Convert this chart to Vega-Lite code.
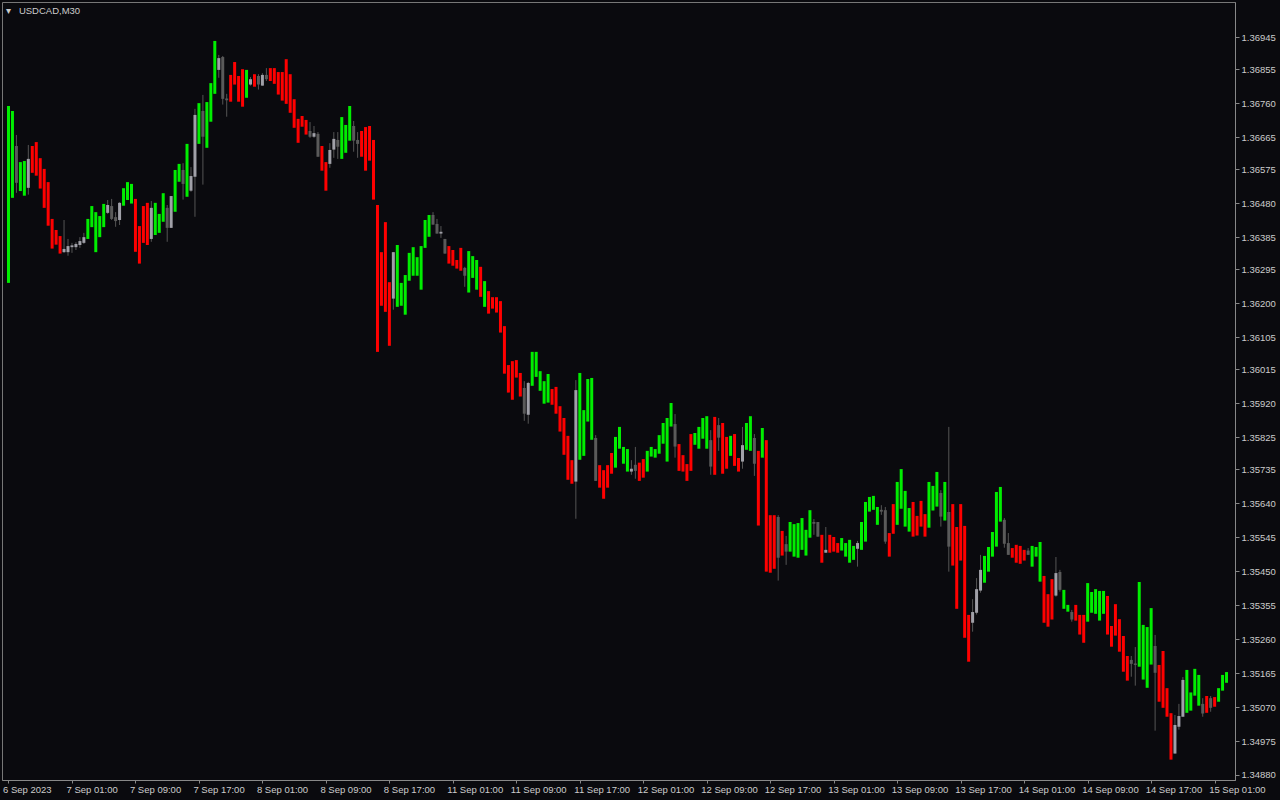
{
  "$schema": "https://vega.github.io/schema/vega-lite/v6.json",
  "autosize": {"type": "none"},
  "width": 1233,
  "height": 778,
  "padding": {"left": 2, "top": 2, "right": 45, "bottom": 20},
  "background": "#0a0a0e",
  "title": {"text": "▾\u00a0\u00a0\u00a0USDCAD,M30", "anchor": "start", "frame": "group", "orient": "top", "offset": 0, "baseline": "alphabetic", "dy": 21, "dx": 4, "fontSize": 9.5, "font": "Liberation Sans", "fontWeight": "normal", "color": "#cccccc"},
  "config": {
    "view": {"stroke": "#777777", "strokeWidth": 1},
    "axis": {"grid": false, "domainColor": "#888888", "tickColor": "#888888", "labelColor": "#cccccc", "labelFont": "Liberation Sans", "labelFontSize": 9.5, "title": null, "labelOverlap": false},
    "axisY": {"labelOverlap": false}
  },
  "data": {"values": [
{"i":0,"k":"g","o":1.36257,"c":1.36752},
{"i":1,"k":"g","o":1.36495,"c":1.36738},
{"i":2,"k":"dg","o":1.36640,"c":1.36537,"h":1.36671,"l":1.36509},
{"i":3,"k":"g","o":1.36514,"c":1.36595},
{"i":4,"k":"g","o":1.36501,"c":1.36598},
{"i":5,"k":"lg","o":1.36523,"c":1.36604,"h":1.36643,"l":1.36504},
{"i":6,"k":"r","o":1.36640,"c":1.36565},
{"i":7,"k":"r","o":1.36651,"c":1.36557},
{"i":8,"k":"r","o":1.36606,"c":1.36521},
{"i":9,"k":"r","o":1.36576,"c":1.36467},
{"i":10,"k":"r","o":1.36539,"c":1.36417},
{"i":11,"k":"r","o":1.36436,"c":1.36353},
{"i":12,"k":"r","o":1.36405,"c":1.36364},
{"i":13,"k":"r","o":1.36388,"c":1.36339},
{"i":14,"k":"lg","o":1.36343,"c":1.36352,"h":1.36433,"l":1.36341},
{"i":15,"k":"lg","o":1.36343,"c":1.36360,"h":1.36380,"l":1.36333},
{"i":16,"k":"lg","o":1.36357,"c":1.36362,"h":1.36369,"l":1.36341},
{"i":17,"k":"lg","o":1.36357,"c":1.36366,"h":1.36371,"l":1.36349},
{"i":18,"k":"lg","o":1.36363,"c":1.36374,"h":1.36385,"l":1.36355},
{"i":19,"k":"lg","o":1.36369,"c":1.36385,"h":1.36397,"l":1.36366},
{"i":20,"k":"g","o":1.36380,"c":1.36436},
{"i":21,"k":"g","o":1.36413,"c":1.36472},
{"i":22,"k":"g","o":1.36343,"c":1.36455},
{"i":23,"k":"g","o":1.36385,"c":1.36444},
{"i":24,"k":"g","o":1.36413,"c":1.36478},
{"i":25,"k":"lg","o":1.36453,"c":1.36475,"h":1.36489,"l":1.36450},
{"i":26,"k":"dg","o":1.36472,"c":1.36436,"h":1.36492,"l":1.36433},
{"i":27,"k":"dg","o":1.36441,"c":1.36430,"h":1.36455,"l":1.36414},
{"i":28,"k":"lg","o":1.36433,"c":1.36481,"h":1.36483,"l":1.36419},
{"i":29,"k":"g","o":1.36473,"c":1.36522},
{"i":30,"k":"g","o":1.36489,"c":1.36539},
{"i":31,"k":"g","o":1.36479,"c":1.36534},
{"i":32,"k":"r","o":1.36492,"c":1.36344},
{"i":33,"k":"r","o":1.36416,"c":1.36311},
{"i":34,"k":"r","o":1.36472,"c":1.36369},
{"i":35,"k":"r","o":1.36481,"c":1.36363},
{"i":36,"k":"lg","o":1.36380,"c":1.36467,"h":1.36486,"l":1.36372},
{"i":37,"k":"g","o":1.36391,"c":1.36481},
{"i":38,"k":"g","o":1.36397,"c":1.36450},
{"i":39,"k":"g","o":1.36428,"c":1.36508},
{"i":40,"k":"dg","o":1.36467,"c":1.36411,"h":1.36475,"l":1.36372},
{"i":41,"k":"lg","o":1.36411,"c":1.36500,"h":1.36500,"l":1.36411},
{"i":42,"k":"g","o":1.36456,"c":1.36573},
{"i":43,"k":"g","o":1.36540,"c":1.36590},
{"i":44,"k":"dg","o":1.36573,"c":1.36534,"h":1.36592,"l":1.36490},
{"i":45,"k":"g","o":1.36498,"c":1.36646},
{"i":46,"k":"lg","o":1.36515,"c":1.36556,"h":1.36581,"l":1.36512},
{"i":47,"k":"lg","o":1.36554,"c":1.36727,"h":1.36744,"l":1.36442},
{"i":48,"k":"g","o":1.36646,"c":1.36760},
{"i":49,"k":"dg","o":1.36738,"c":1.36666,"h":1.36783,"l":1.36532},
{"i":50,"k":"g","o":1.36635,"c":1.36763},
{"i":51,"k":"g","o":1.36708,"c":1.36816},
{"i":52,"k":"g","o":1.36786,"c":1.36934},
{"i":53,"k":"lg","o":1.36853,"c":1.36886,"h":1.36895,"l":1.36831},
{"i":54,"k":"dg","o":1.36889,"c":1.36772,"h":1.36892,"l":1.36756},
{"i":55,"k":"dg","o":1.36773,"c":1.36768,"h":1.36786,"l":1.36722},
{"i":56,"k":"r","o":1.36839,"c":1.36764},
{"i":57,"k":"r","o":1.36875,"c":1.36812},
{"i":58,"k":"r","o":1.36836,"c":1.36764},
{"i":59,"k":"r","o":1.36855,"c":1.36750},
{"i":60,"k":"g","o":1.36775,"c":1.36853},
{"i":61,"k":"lg","o":1.36812,"c":1.36827,"h":1.36833,"l":1.36809},
{"i":62,"k":"r","o":1.36841,"c":1.36806},
{"i":63,"k":"dg","o":1.36836,"c":1.36812,"h":1.36841,"l":1.36798},
{"i":64,"k":"lg","o":1.36809,"c":1.36839,"h":1.36844,"l":1.36809},
{"i":65,"k":"dg","o":1.36839,"c":1.36827,"h":1.36858,"l":1.36822},
{"i":66,"k":"r","o":1.36858,"c":1.36822},
{"i":67,"k":"r","o":1.36858,"c":1.36814},
{"i":68,"k":"r","o":1.36847,"c":1.36784},
{"i":69,"k":"r","o":1.36847,"c":1.36767},
{"i":70,"k":"r","o":1.36883,"c":1.36758},
{"i":71,"k":"r","o":1.36841,"c":1.36733},
{"i":72,"k":"r","o":1.36771,"c":1.36691},
{"i":73,"k":"r","o":1.36716,"c":1.36649},
{"i":74,"k":"r","o":1.36724,"c":1.36694},
{"i":75,"k":"r","o":1.36713,"c":1.36672},
{"i":76,"k":"dg","o":1.36682,"c":1.36666,"h":1.36707,"l":1.36663},
{"i":77,"k":"lg","o":1.36666,"c":1.36676,"h":1.36696,"l":1.36663},
{"i":78,"k":"dg","o":1.36674,"c":1.36610,"h":1.36679,"l":1.36610},
{"i":79,"k":"r","o":1.36640,"c":1.36571},
{"i":80,"k":"r","o":1.36595,"c":1.36515},
{"i":81,"k":"lg","o":1.36590,"c":1.36629,"h":1.36648,"l":1.36579},
{"i":82,"k":"lg","o":1.36630,"c":1.36660,"h":1.36679,"l":1.36607},
{"i":83,"k":"dg","o":1.36657,"c":1.36638,"h":1.36679,"l":1.36604},
{"i":84,"k":"g","o":1.36604,"c":1.36721},
{"i":85,"k":"g","o":1.36621,"c":1.36699},
{"i":86,"k":"g","o":1.36655,"c":1.36752},
{"i":87,"k":"dg","o":1.36696,"c":1.36655,"h":1.36710,"l":1.36624},
{"i":88,"k":"dg","o":1.36657,"c":1.36646,"h":1.36679,"l":1.36607},
{"i":89,"k":"r","o":1.36682,"c":1.36610},
{"i":90,"k":"r","o":1.36693,"c":1.36571},
{"i":91,"k":"r","o":1.36696,"c":1.36599},
{"i":92,"k":"r","o":1.36657,"c":1.36490},
{"i":93,"k":"r","o":1.36475,"c":1.36064},
{"i":94,"k":"r","o":1.36343,"c":1.36193},
{"i":95,"k":"r","o":1.36427,"c":1.36176},
{"i":96,"k":"r","o":1.36259,"c":1.36081},
{"i":97,"k":"lg","o":1.36213,"c":1.36343,"h":1.36343,"l":1.36182},
{"i":98,"k":"g","o":1.36190,"c":1.36363},
{"i":99,"k":"g","o":1.36193,"c":1.36257},
{"i":100,"k":"g","o":1.36168,"c":1.36279},
{"i":101,"k":"g","o":1.36263,"c":1.36341},
{"i":102,"k":"g","o":1.36277,"c":1.36357},
{"i":103,"k":"g","o":1.36277,"c":1.36329},
{"i":104,"k":"g","o":1.36238,"c":1.36360},
{"i":105,"k":"g","o":1.36355,"c":1.36433},
{"i":106,"k":"g","o":1.36386,"c":1.36447},
{"i":107,"k":"dg","o":1.36447,"c":1.36420,"h":1.36455,"l":1.36420},
{"i":108,"k":"dg","o":1.36422,"c":1.36395,"h":1.36436,"l":1.36395},
{"i":109,"k":"lg","o":1.36395,"c":1.36400,"h":1.36416,"l":1.36383},
{"i":110,"k":"dg","o":1.36380,"c":1.36339,"h":1.36380,"l":1.36339},
{"i":111,"k":"r","o":1.36360,"c":1.36311},
{"i":112,"k":"r","o":1.36349,"c":1.36305},
{"i":113,"k":"r","o":1.36321,"c":1.36297},
{"i":114,"k":"r","o":1.36355,"c":1.36291},
{"i":115,"k":"dg","o":1.36299,"c":1.36277,"h":1.36302,"l":1.36246},
{"i":116,"k":"g","o":1.36230,"c":1.36346},
{"i":117,"k":"g","o":1.36271,"c":1.36332},
{"i":118,"k":"g","o":1.36238,"c":1.36321},
{"i":119,"k":"r","o":1.36302,"c":1.36218},
{"i":120,"k":"g","o":1.36190,"c":1.36262},
{"i":121,"k":"r","o":1.36234,"c":1.36171},
{"i":122,"k":"r","o":1.36217,"c":1.36185},
{"i":123,"k":"r","o":1.36217,"c":1.36174},
{"i":124,"k":"r","o":1.36206,"c":1.36118},
{"i":125,"k":"r","o":1.36136,"c":1.36003},
{"i":126,"k":"r","o":1.36027,"c":1.35950},
{"i":127,"k":"r","o":1.36038,"c":1.35930},
{"i":128,"k":"r","o":1.36041,"c":1.35992},
{"i":129,"k":"r","o":1.36005,"c":1.35939},
{"i":130,"k":"dg","o":1.35963,"c":1.35891,"h":1.35982,"l":1.35871},
{"i":131,"k":"lg","o":1.35888,"c":1.35977,"h":1.35980,"l":1.35863},
{"i":132,"k":"g","o":1.35969,"c":1.36064},
{"i":133,"k":"g","o":1.35994,"c":1.36064},
{"i":134,"k":"g","o":1.35955,"c":1.36010},
{"i":135,"k":"g","o":1.35919,"c":1.35982},
{"i":136,"k":"g","o":1.35922,"c":1.36002},
{"i":137,"k":"r","o":1.35960,"c":1.35916},
{"i":138,"k":"r","o":1.35966,"c":1.35891},
{"i":139,"k":"r","o":1.35912,"c":1.35841},
{"i":140,"k":"r","o":1.35879,"c":1.35776},
{"i":141,"k":"r","o":1.35829,"c":1.35706},
{"i":142,"k":"r","o":1.35761,"c":1.35695},
{"i":143,"k":"lg","o":1.35701,"c":1.35957,"h":1.35985,"l":1.35597},
{"i":144,"k":"g","o":1.35762,"c":1.36005},
{"i":145,"k":"g","o":1.35773,"c":1.35901},
{"i":146,"k":"g","o":1.35869,"c":1.35988},
{"i":147,"k":"g","o":1.35818,"c":1.35991},
{"i":148,"k":"dg","o":1.35823,"c":1.35703,"h":1.35831,"l":1.35703},
{"i":149,"k":"r","o":1.35747,"c":1.35684},
{"i":150,"k":"r","o":1.35733,"c":1.35653},
{"i":151,"k":"r","o":1.35747,"c":1.35684},
{"i":152,"k":"r","o":1.35781,"c":1.35723},
{"i":153,"k":"g","o":1.35740,"c":1.35826},
{"i":154,"k":"g","o":1.35793,"c":1.35854},
{"i":155,"k":"g","o":1.35751,"c":1.35798},
{"i":156,"k":"g","o":1.35729,"c":1.35792},
{"i":157,"k":"lg","o":1.35729,"c":1.35737,"h":1.35761,"l":1.35720},
{"i":158,"k":"dg","o":1.35748,"c":1.35731,"h":1.35798,"l":1.35709},
{"i":159,"k":"r","o":1.35754,"c":1.35703},
{"i":160,"k":"r","o":1.35764,"c":1.35712},
{"i":161,"k":"g","o":1.35729,"c":1.35787},
{"i":162,"k":"g","o":1.35771,"c":1.35798},
{"i":163,"k":"g","o":1.35768,"c":1.35792},
{"i":164,"k":"g","o":1.35779,"c":1.35831},
{"i":165,"k":"g","o":1.35807,"c":1.35865},
{"i":166,"k":"g","o":1.35757,"c":1.35879},
{"i":167,"k":"g","o":1.35855,"c":1.35921},
{"i":168,"k":"dg","o":1.35862,"c":1.35799,"h":1.35890,"l":1.35768},
{"i":169,"k":"r","o":1.35806,"c":1.35731},
{"i":170,"k":"r","o":1.35775,"c":1.35729},
{"i":171,"k":"r","o":1.35750,"c":1.35703},
{"i":172,"k":"r","o":1.35834,"c":1.35731},
{"i":173,"k":"g","o":1.35804,"c":1.35837},
{"i":174,"k":"g","o":1.35793,"c":1.35854},
{"i":175,"k":"g","o":1.35821,"c":1.35879},
{"i":176,"k":"g","o":1.35793,"c":1.35884},
{"i":177,"k":"dg","o":1.35817,"c":1.35743,"h":1.35845,"l":1.35720},
{"i":178,"k":"r","o":1.35882,"c":1.35720},
{"i":179,"k":"dg","o":1.35859,"c":1.35824,"h":1.35879,"l":1.35787},
{"i":180,"k":"r","o":1.35865,"c":1.35723},
{"i":181,"k":"r","o":1.35826,"c":1.35737},
{"i":182,"k":"g","o":1.35773,"c":1.35829},
{"i":183,"k":"r","o":1.35834,"c":1.35745},
{"i":184,"k":"r","o":1.35767,"c":1.35729},
{"i":185,"k":"lg","o":1.35757,"c":1.35803,"h":1.35854,"l":1.35737},
{"i":186,"k":"g","o":1.35790,"c":1.35865},
{"i":187,"k":"g","o":1.35787,"c":1.35884},
{"i":188,"k":"dg","o":1.35823,"c":1.35751,"h":1.35834,"l":1.35717},
{"i":189,"k":"r","o":1.35787,"c":1.35578},
{"i":190,"k":"g","o":1.35768,"c":1.35851},
{"i":191,"k":"r","o":1.35817,"c":1.35449},
{"i":192,"k":"r","o":1.35607,"c":1.35446},
{"i":193,"k":"r","o":1.35607,"c":1.35457},
{"i":194,"k":"dg","o":1.35602,"c":1.35488,"h":1.35607,"l":1.35424},
{"i":195,"k":"r","o":1.35563,"c":1.35494},
{"i":196,"k":"dg","o":1.35526,"c":1.35505,"h":1.35549,"l":1.35468},
{"i":197,"k":"g","o":1.35505,"c":1.35588},
{"i":198,"k":"g","o":1.35491,"c":1.35582},
{"i":199,"k":"g","o":1.35488,"c":1.35585},
{"i":200,"k":"g","o":1.35510,"c":1.35599},
{"i":201,"k":"g","o":1.35494,"c":1.35566},
{"i":202,"k":"g","o":1.35544,"c":1.35621},
{"i":203,"k":"dg","o":1.35588,"c":1.35583,"h":1.35596,"l":1.35552},
{"i":204,"k":"dg","o":1.35588,"c":1.35547,"h":1.35588,"l":1.35547},
{"i":205,"k":"r","o":1.35552,"c":1.35474},
{"i":206,"k":"lg","o":1.35502,"c":1.35510,"h":1.35574,"l":1.35502},
{"i":207,"k":"r","o":1.35552,"c":1.35502},
{"i":208,"k":"r","o":1.35546,"c":1.35505},
{"i":209,"k":"r","o":1.35529,"c":1.35502},
{"i":210,"k":"g","o":1.35508,"c":1.35543},
{"i":211,"k":"g","o":1.35491,"c":1.35529},
{"i":212,"k":"g","o":1.35474,"c":1.35538},
{"i":213,"k":"g","o":1.35482,"c":1.35521},
{"i":214,"k":"lg","o":1.35513,"c":1.35529,"h":1.35535,"l":1.35463},
{"i":215,"k":"g","o":1.35510,"c":1.35588},
{"i":216,"k":"g","o":1.35533,"c":1.35644},
{"i":217,"k":"g","o":1.35617,"c":1.35658},
{"i":218,"k":"g","o":1.35622,"c":1.35661},
{"i":219,"k":"g","o":1.35580,"c":1.35630},
{"i":220,"k":"dg","o":1.35622,"c":1.35617,"h":1.35635,"l":1.35608},
{"i":221,"k":"dg","o":1.35621,"c":1.35533,"h":1.35630,"l":1.35527},
{"i":222,"k":"r","o":1.35557,"c":1.35491},
{"i":223,"k":"r","o":1.35638,"c":1.35555},
{"i":224,"k":"g","o":1.35580,"c":1.35700},
{"i":225,"k":"g","o":1.35625,"c":1.35736},
{"i":226,"k":"g","o":1.35575,"c":1.35675},
{"i":227,"k":"g","o":1.35561,"c":1.35627},
{"i":228,"k":"r","o":1.35644,"c":1.35547},
{"i":229,"k":"r","o":1.35605,"c":1.35550},
{"i":230,"k":"r","o":1.35647,"c":1.35575},
{"i":231,"k":"r","o":1.35610,"c":1.35547},
{"i":232,"k":"g","o":1.35572,"c":1.35700},
{"i":233,"k":"g","o":1.35620,"c":1.35689},
{"i":234,"k":"g","o":1.35631,"c":1.35728},
{"i":235,"k":"dg","o":1.35669,"c":1.35603,"h":1.35677,"l":1.35575},
{"i":236,"k":"g","o":1.35592,"c":1.35700},
{"i":237,"k":"dg","o":1.35616,"c":1.35519,"h":1.35854,"l":1.35449},
{"i":238,"k":"r","o":1.35638,"c":1.35466},
{"i":239,"k":"r","o":1.35574,"c":1.35345},
{"i":240,"k":"r","o":1.35638,"c":1.35480},
{"i":241,"k":"r","o":1.35577,"c":1.35264},
{"i":242,"k":"r","o":1.35328,"c":1.35197},
{"i":243,"k":"lg","o":1.35306,"c":1.35336,"h":1.35372,"l":1.35281},
{"i":244,"k":"lg","o":1.35334,"c":1.35400,"h":1.35431,"l":1.35329},
{"i":245,"k":"lg","o":1.35396,"c":1.35454,"h":1.35496,"l":1.35390},
{"i":246,"k":"g","o":1.35418,"c":1.35493},
{"i":247,"k":"g","o":1.35449,"c":1.35518},
{"i":248,"k":"g","o":1.35491,"c":1.35560},
{"i":249,"k":"g","o":1.35519,"c":1.35672},
{"i":250,"k":"g","o":1.35589,"c":1.35686},
{"i":251,"k":"dg","o":1.35594,"c":1.35527,"h":1.35599,"l":1.35516},
{"i":252,"k":"dg","o":1.35529,"c":1.35496,"h":1.35557,"l":1.35496},
{"i":253,"k":"r","o":1.35515,"c":1.35488},
{"i":254,"k":"r","o":1.35524,"c":1.35474},
{"i":255,"k":"r","o":1.35521,"c":1.35471},
{"i":256,"k":"r","o":1.35510,"c":1.35480},
{"i":257,"k":"dg","o":1.35508,"c":1.35496,"h":1.35515,"l":1.35496},
{"i":258,"k":"g","o":1.35463,"c":1.35521},
{"i":259,"k":"g","o":1.35491,"c":1.35518},
{"i":260,"k":"g","o":1.35421,"c":1.35532},
{"i":261,"k":"r","o":1.35437,"c":1.35306},
{"i":262,"k":"r","o":1.35386,"c":1.35295},
{"i":263,"k":"r","o":1.35428,"c":1.35315},
{"i":264,"k":"lg","o":1.35382,"c":1.35445,"h":1.35490,"l":1.35379},
{"i":265,"k":"dg","o":1.35448,"c":1.35398,"h":1.35454,"l":1.35393},
{"i":266,"k":"g","o":1.35345,"c":1.35398},
{"i":267,"k":"g","o":1.35337,"c":1.35356},
{"i":268,"k":"dg","o":1.35336,"c":1.35315,"h":1.35342,"l":1.35309},
{"i":269,"k":"r","o":1.35356,"c":1.35312},
{"i":270,"k":"r","o":1.35328,"c":1.35273},
{"i":271,"k":"r","o":1.35328,"c":1.35250},
{"i":272,"k":"g","o":1.35309,"c":1.35417},
{"i":273,"k":"g","o":1.35334,"c":1.35392},
{"i":274,"k":"g","o":1.35331,"c":1.35400},
{"i":275,"k":"g","o":1.35312,"c":1.35395},
{"i":276,"k":"g","o":1.35331,"c":1.35395},
{"i":277,"k":"r","o":1.35381,"c":1.35273},
{"i":278,"k":"r","o":1.35297,"c":1.35239},
{"i":279,"k":"r","o":1.35358,"c":1.35270},
{"i":280,"k":"r","o":1.35316,"c":1.35225},
{"i":281,"k":"r","o":1.35269,"c":1.35169},
{"i":282,"k":"r","o":1.35213,"c":1.35144},
{"i":283,"k":"dg","o":1.35202,"c":1.35191,"h":1.35213,"l":1.35155},
{"i":284,"k":"dg","o":1.35192,"c":1.35188,"h":1.35238,"l":1.35130},
{"i":285,"k":"g","o":1.35183,"c":1.35420},
{"i":286,"k":"g","o":1.35147,"c":1.35300},
{"i":287,"k":"g","o":1.35124,"c":1.35294},
{"i":288,"k":"g","o":1.35189,"c":1.35347},
{"i":289,"k":"dg","o":1.35241,"c":1.35166,"h":1.35272,"l":1.35004},
{"i":290,"k":"r","o":1.35188,"c":1.35085},
{"i":291,"k":"r","o":1.35227,"c":1.35068},
{"i":292,"k":"r","o":1.35123,"c":1.35043},
{"i":293,"k":"r","o":1.35053,"c":1.34923},
{"i":294,"k":"lg","o":1.34940,"c":1.35020,"h":1.35048,"l":1.34940},
{"i":295,"k":"lg","o":1.35015,"c":1.35045,"h":1.35079,"l":1.35007},
{"i":296,"k":"lg","o":1.35043,"c":1.35146,"h":1.35154,"l":1.35043},
{"i":297,"k":"g","o":1.35054,"c":1.35174},
{"i":298,"k":"g","o":1.35060,"c":1.35111},
{"i":299,"k":"g","o":1.35102,"c":1.35177},
{"i":300,"k":"g","o":1.35074,"c":1.35160},
{"i":301,"k":"dg","o":1.35079,"c":1.35052,"h":1.35095,"l":1.35043},
{"i":302,"k":"r","o":1.35101,"c":1.35054},
{"i":303,"k":"dg","o":1.35095,"c":1.35068,"h":1.35101,"l":1.35057},
{"i":304,"k":"r","o":1.35098,"c":1.35071},
{"i":305,"k":"g","o":1.35085,"c":1.35123},
{"i":306,"k":"g","o":1.35116,"c":1.35160},
{"i":307,"k":"g","o":1.35138,"c":1.35168}
  ]},
  "encoding": {
    "x": {"field": "i", "type": "quantitative",
      "scale": {"domain": [-0.375, 307.875], "nice": false, "zero": false},
      "axis": {"orient": "bottom", "values": [0,16,32,48,64,80,96,112,128,144,160,176,192,208,224,240,256,272,288,304],
        "labelExpr": "['6 Sep 2023','7 Sep 01:00','7 Sep 09:00','7 Sep 17:00','8 Sep 01:00','8 Sep 09:00','8 Sep 17:00','11 Sep 01:00','11 Sep 09:00','11 Sep 17:00','12 Sep 01:00','12 Sep 09:00','12 Sep 17:00','13 Sep 01:00','13 Sep 09:00','13 Sep 17:00','14 Sep 01:00','14 Sep 09:00','14 Sep 17:00','15 Sep 01:00'][round(datum.value/16)]",
        "labelAlign": "left", "labelBaseline": "top", "labelPadding": 1, "labelOffset": -6, "tickSize": 3, "labelOverlap": false, "labelFlush": false, "labelBound": false}
    }
  },
  "layer": [
    {
      "transform": [{"filter": {"field": "h", "valid": true}}],
      "mark": {"type": "rule", "color": "#555555", "strokeWidth": 1},
      "encoding": {
        "y": {"field": "l", "type": "quantitative", "scale": {"domain": [1.34866, 1.37043], "nice": false, "zero": false},
          "axis": {"orient": "right", "values": [1.36945,1.36855,1.3676,1.36665,1.36575,1.3648,1.36385,1.36295,1.362,1.36105,1.36015,1.3592,1.35825,1.35735,1.3564,1.35545,1.3545,1.35355,1.3526,1.35165,1.3507,1.34975,1.3488],
            "format": ".5f", "tickSize": 4, "labelPadding": 2, "labelAlign": "left", "labelBaseline": "middle", "labelOverlap": false, "labelFlush": false, "labelBound": false}},
        "y2": {"field": "h"}
      }
    },
    {
      "mark": {"type": "bar", "size": 3, "orient": "vertical"},
      "encoding": {
        "y": {"field": "o", "type": "quantitative", "scale": {"domain": [1.34866, 1.37043], "nice": false, "zero": false},
          "axis": {"orient": "right", "values": [1.36945,1.36855,1.3676,1.36665,1.36575,1.3648,1.36385,1.36295,1.362,1.36105,1.36015,1.3592,1.35825,1.35735,1.3564,1.35545,1.3545,1.35355,1.3526,1.35165,1.3507,1.34975,1.3488],
            "format": ".5f", "tickSize": 4, "labelPadding": 2, "labelAlign": "left", "labelBaseline": "middle", "labelOverlap": false, "labelFlush": false, "labelBound": false}},
        "y2": {"field": "c"},
        "color": {"field": "k", "type": "nominal", "legend": null,
          "scale": {"domain": ["g", "r", "lg", "dg"], "range": ["#00ee00", "#ff0000", "#a0a0a8", "#5a5a5a"]}}
      }
    }
  ]
}
